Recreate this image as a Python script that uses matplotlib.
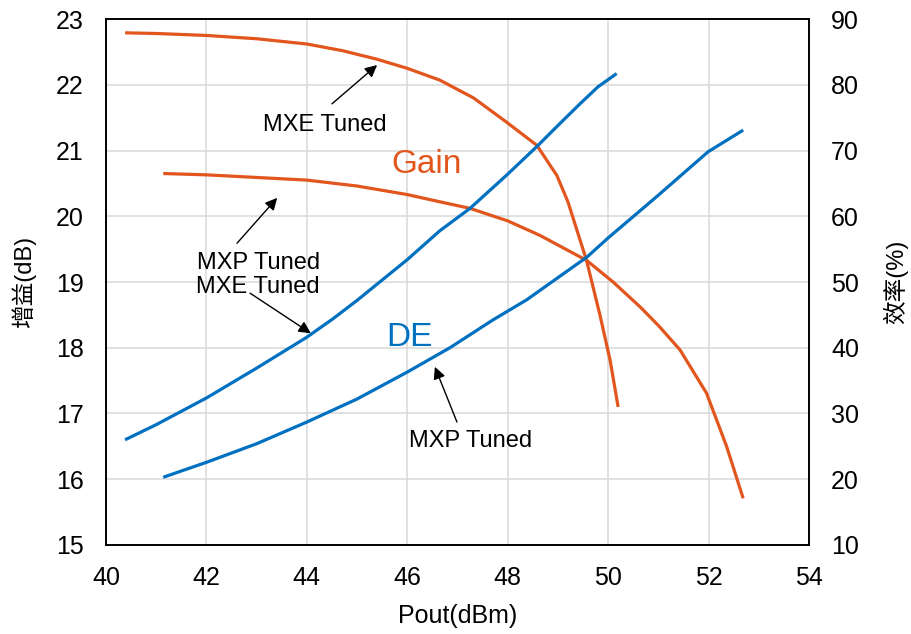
#!/usr/bin/env python

'''Gain and drain efficiency vs output power, MXE / MXP tuned.'''

import matplotlib
matplotlib.use('Agg')
import matplotlib.pyplot as plt

plt.rcParams['font.family'] = ['Liberation Sans', 'Noto Sans CJK SC']

ORANGE = '#E2561E'
BLUE = '#0070C0'

########################################################################
# Data

# Gain, MXE tuned
mxe_gain_pout = [40.38, 41.0, 42.0, 43.0, 44.0, 44.7, 45.39, 46.0, 46.65, 47.32,
                 47.98, 48.58, 48.98, 49.2, 49.57, 49.84, 50.04, 50.2]
mxe_gain = [22.79, 22.78, 22.75, 22.70, 22.62, 22.52, 22.39, 22.25, 22.07, 21.80,
            21.43, 21.08, 20.62, 20.22, 19.33, 18.49, 17.81, 17.10]

# Gain, MXP tuned
mxp_gain_pout = [41.14, 42.0, 43.0, 44.0, 45.0, 46.0, 46.65, 47.25, 48.0, 48.64,
                 49.57, 50.1, 50.64, 51.0, 51.43, 51.96, 52.36, 52.69]
mxp_gain = [20.65, 20.63, 20.59, 20.55, 20.46, 20.33, 20.22, 20.12, 19.93, 19.71,
            19.33, 19.00, 18.62, 18.34, 17.97, 17.31, 16.50, 15.71]

# Drain efficiency, MXE tuned
mxe_de_pout = [40.38, 41.0, 42.01, 43.0, 44.0, 44.52, 45.0, 46.0, 46.65, 47.25,
               48.0, 48.58, 49.0, 49.44, 49.8, 50.17]
mxe_de = [26.0, 28.3, 32.4, 36.9, 41.6, 44.4, 47.2, 53.4, 57.8, 61.2,
          66.4, 70.6, 73.8, 77.1, 79.7, 81.7]

# Drain efficiency, MXP tuned
mxp_de_pout = [41.14, 42.01, 43.0, 44.0, 45.0, 46.0, 46.85, 47.7, 48.38, 49.58,
               50.0, 51.0, 51.99, 52.69]
mxp_de = [20.3, 22.6, 25.4, 28.7, 32.2, 36.3, 40.0, 44.2, 47.3, 53.8,
          56.7, 63.2, 69.8, 73.1]

x_ticks = [40, 42, 44, 46, 48, 50, 52, 54]
gain_ticks = [15, 16, 17, 18, 19, 20, 21, 22, 23]
de_ticks = [10, 20, 30, 40, 50, 60, 70, 80, 90]

########################################################################
# Plot

fig = plt.figure(figsize=(9.12, 6.34), dpi=100)
ax = fig.add_axes([0.1162, 0.1404, 0.7708, 0.8296])
ax2 = ax.twinx()

ax.plot(mxe_gain_pout, mxe_gain, color=ORANGE, lw=2.3, solid_capstyle='butt')
ax.plot(mxp_gain_pout, mxp_gain, color=ORANGE, lw=2.3, solid_capstyle='butt')
ax2.plot(mxe_de_pout, mxe_de, color=BLUE, lw=2.3, solid_capstyle='butt')
ax2.plot(mxp_de_pout, mxp_de, color=BLUE, lw=2.3, solid_capstyle='butt')

ax.set_xlim(40, 54)
ax.set_ylim(15, 23)
ax2.set_ylim(10, 90)
ax.set_xticks(x_ticks)
ax.set_yticks(gain_ticks)
ax2.set_yticks(de_ticks)

ax.grid(True, color='#D9D9D9', lw=1.1)
ax.set_axisbelow(True)

for a in (ax, ax2):
    for s in a.spines.values():
        s.set_color('black')
        s.set_linewidth(1.2)
ax.tick_params(axis='both', length=0, labelsize=18)
ax.tick_params(axis='x', pad=15)
ax.tick_params(axis='y', pad=16)
ax2.tick_params(axis='y', length=0, labelsize=18, pad=16)

ax.set_xlabel('Pout(dBm)', fontsize=18, labelpad=10)
ax.set_ylabel('增益(dB)', fontsize=17, labelpad=14)
ax2.set_ylabel('效率(%)', fontsize=17, labelpad=17)

arrow = dict(arrowstyle='-|>', color='black', lw=1.0, mutation_scale=18,
             shrinkA=0, shrinkB=0)

ax.text(44.36, 21.39, 'MXE Tuned', fontsize=17, ha='center', va='center')
ax.annotate('', xy=(45.4, 22.3), xytext=(44.5, 21.71), arrowprops=arrow)

ax.text(43.03, 19.11, 'MXP Tuned\nMXE Tuned', fontsize=17, ha='center',
        va='center', linespacing=1.1)
ax.annotate('', xy=(43.41, 20.28), xytext=(42.61, 19.59), arrowprops=arrow)
ax.annotate('', xy=(44.08, 18.22), xytext=(42.87, 18.83), arrowprops=arrow)

ax.text(47.27, 16.58, 'MXP Tuned', fontsize=17, ha='center', va='center')
ax.annotate('', xy=(46.55, 17.71), xytext=(46.99, 16.87), arrowprops=arrow)

ax.text(46.39, 20.78, 'Gain', fontsize=24, color=ORANGE, ha='center', va='center')
ax.text(46.05, 18.16, 'DE', fontsize=24, color=BLUE, ha='center', va='center')

plt.savefig('out.png', dpi=100)
